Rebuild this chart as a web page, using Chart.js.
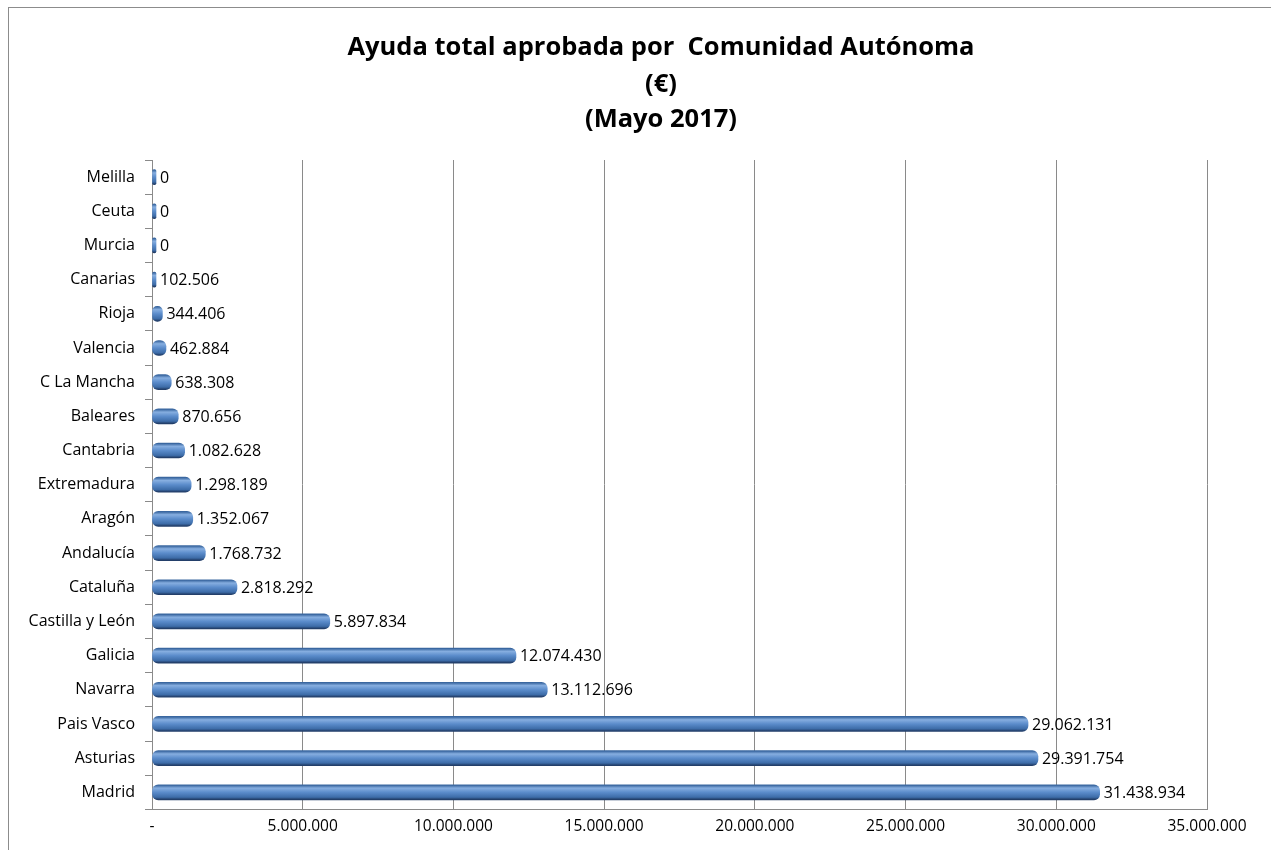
<!DOCTYPE html>
<html>
<head>
<meta charset="utf-8">
<script src="https://cdn.jsdelivr.net/npm/chart.js@4.4.1/dist/chart.umd.min.js"></script>
<style>
  body { margin: 0; background: #fff; }
  #wrap { position: relative; width: 1271px; height: 850px; }
</style>
</head>
<body>
<div id="wrap"><canvas id="ayudaChart"></canvas></div>
<script>
// Datos
const regiones = ["Melilla", "Ceuta", "Murcia", "Canarias", "Rioja", "Valencia", "C La Mancha",
  "Baleares", "Cantabria", "Extremadura", "Aragón", "Andalucía", "Cataluña", "Castilla y León",
  "Galicia", "Navarra", "Pais Vasco", "Asturias", "Madrid"];
const ayudaTotal = [0, 0, 0, 102506, 344406, 462884, 638308, 870656, 1082628, 1298189, 1352067,
  1768732, 2818292, 5897834, 12074430, 13112696, 29062131, 29391754, 31438934];
const tituloLineas = ["Ayuda total aprobada por  Comunidad Autónoma", "(€)", "(Mayo 2017)"];
const ejeMax = 35000000;
const ejePaso = 5000000;

const FONT = "'Open Sans', 'Liberation Sans', sans-serif";

function formatoES(v) {
  return String(Math.round(v)).replace(/\B(?=(\d{3})+(?!\d))/g, ".");
}

// relleno tipo cilindro
function cilindro(context) {
  const chart = context.chart;
  if (!chart.chartArea || !chart.scales.y) return "#4F81BD";
  const y = chart.scales.y.getPixelForValue(context.dataIndex);
  const g = chart.ctx.createLinearGradient(0, y - 7, 0, y + 7);
  g.addColorStop(0, "#3A67A0");
  g.addColorStop(0.2, "#86AEE0");
  g.addColorStop(0.5, "#5B8CCB");
  g.addColorStop(0.85, "#3D6CA8");
  g.addColorStop(1, "#233F6A");
  return g;
}

const etiquetas = {
  id: "etiquetas",
  afterDatasetsDraw(chart) {
    const ctx = chart.ctx;
    const meta = chart.getDatasetMeta(0);
    ctx.save();
    ctx.font = "16px " + FONT;
    ctx.fillStyle = "#000";
    ctx.textBaseline = "middle";
    ctx.textAlign = "left";
    meta.data.forEach((bar, i) => {
      ctx.fillText(formatoES(ayudaTotal[i]), bar.x + 4, bar.y + 1);
    });
    ctx.restore();
  }
};

// marco y titulo
const marco = {
  id: "marco",
  beforeDraw(chart) {
    const ctx = chart.ctx;
    ctx.save();
    ctx.strokeStyle = "#8c8c8c";
    ctx.lineWidth = 1;
    ctx.strokeRect(8.5, 7.5, chart.width, chart.height);
    ctx.font = "bold 25.5px " + FONT;
    ctx.fillStyle = "#000";
    ctx.textAlign = "center";
    ctx.textBaseline = "middle";
    const ys = [48, 85, 120];
    tituloLineas.forEach((t, i) => ctx.fillText(t, 661, ys[i]));
    ctx.restore();
  }
};

function initAyudaChart() {
  const ctx = document.getElementById("ayudaChart").getContext("2d");
  new Chart(ctx, {
    type: "bar",
    data: {
      labels: regiones,
      datasets: [{
        data: ayudaTotal,
        backgroundColor: cilindro,
        borderWidth: 0,
        borderRadius: 6,
        borderSkipped: false,
        barThickness: 15,
        minBarLength: 4
      }]
    },
    options: {
      indexAxis: "y",
      responsive: false,
      animation: false,
      layout: { padding: { left: 10, right: 64, top: 160, bottom: 6 } },
      plugins: {
        legend: { display: false },
        tooltip: { enabled: false },
        title: { display: false }
      },
      scales: {
        x: {
          min: 0,
          max: ejeMax,
          ticks: {
            stepSize: ejePaso,
            color: "#000",
            font: { family: FONT, size: 15.5 },
            padding: 8,
            callback: v => v === 0 ? "-" : formatoES(v)
          },
          grid: { color: "#8a8a8a", lineWidth: 1, drawTicks: false },
          border: { color: "#8a8a8a" }
        },
        y: {
          afterFit: s => { s.width = 142; },
          ticks: {
            color: "#000",
            font: { family: FONT, size: 16 },
            padding: 10
          },
          grid: { drawOnChartArea: false, color: "#8a8a8a", tickLength: 7 },
          border: { color: "#8a8a8a" }
        }
      }
    },
    plugins: [marco, etiquetas]
  });
}

document.getElementById("ayudaChart").width = 1271;
document.getElementById("ayudaChart").height = 850;
initAyudaChart();
</script>
</body>
</html>
